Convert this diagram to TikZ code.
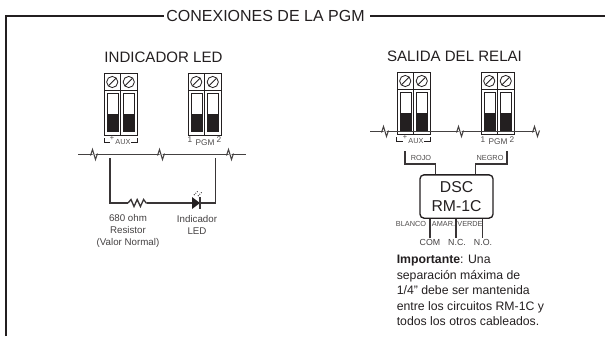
\documentclass[tikz,border=0pt]{standalone}
\usepackage{fontspec}
\setmainfont{Liberation Sans}
\definecolor{ink}{HTML}{231F20}
\tikzset{
  x=0.75pt,y=-0.75pt,
  frameline/.style={draw=ink,line width=1.4pt},
  wire/.style={draw=ink!85,line width=0.7pt},
  lead/.style={draw=ink!90,line width=1pt},
  termline/.style={draw=ink,line width=0.6pt},
  heading/.style={inner sep=0pt,text=ink,font=\fontsize{11.3}{13}\selectfont},
  title/.style={inner sep=0pt,text=ink,font=\fontsize{12}{14}\selectfont},
  small/.style={inner sep=0pt,text=ink!85,align=center,font=\fontsize{7.3}{9}\selectfont},
  tiny/.style={inner sep=0pt,text=ink!80,font=\fontsize{5.5}{6}\selectfont},
  pgmlabel/.style={inner sep=0pt,text=ink!80,font=\fontsize{6.2}{7}\selectfont},
  pics/terminal/.style={code={
    \draw[termline] (0,0) rectangle (16.5,62);
    \draw[termline] (0,16.5) -- (16.5,16.5);
    \draw[termline] (8.25,8.5) circle (5.6);
    \draw[termline] (4.6,12.2) -- (11.9,4.8);
    \draw[termline] (3,19.5) rectangle (14,57.5);
    \fill[ink] (3,40.5) rectangle (14,57.5);
  }},
  pics/wirebreak/.style={code={
    \draw[wire,line width=0.8pt] (-3.5,1) -- (-1.5,-5) -- (1.5,5) -- (3.5,-1);
  }}
}
\begin{document}
\begin{tikzpicture}
\useasboundingbox (0,0) rectangle (605,336);
% frame
\node[title,anchor=center] (maintitle) at (265.5,15.5) {CONEXIONES DE LA PGM};
\coordinate (fbl) at (6,336);
\coordinate (ftl) at (6,16);
\coordinate (ftr) at (605,16);
\coordinate (ftg1) at (163.5,16);
\coordinate (ftg2) at (370,16);
\draw[frameline] (fbl) -- (ftl) -- (ftg1);
\draw[frameline] (ftg2) -- (ftr);
% left section
\node[heading] (hleft) at (163.5,57) {INDICADOR LED};
\pic at (104,73.5) {terminal};
\pic at (120.5,73.5) {terminal};
\pic at (188,73.5) {terminal};
\pic at (204.5,73.5) {terminal};
\node[tiny] (auxl) at (123,142.5) {AUX};
\node[tiny,anchor=base] (plusl) at (112,140) {+};
\coordinate (a1) at (104,138); \coordinate (a2) at (104,142); \coordinate (a3) at (110,142);
\coordinate (a4) at (131,142); \coordinate (a5) at (137,142); \coordinate (a6) at (137,138);
\draw[termline] (a1) -- (a2) -- (a3);
\draw[termline] (a4) -- (a5) -- (a6);
\node[pgmlabel] (pgml) at (205,142.5) {PGM};
\node[pgmlabel] (p1l) at (190,140) {1};
\node[pgmlabel] (p2l) at (219,140) {2};
% bus left
\coordinate (w1) at (78,154.5); \coordinate (b1) at (94,154.5);
\coordinate (b2) at (161,154.5); \coordinate (b3) at (230,154.5); \coordinate (w2) at (246,154.5);
\draw[wire] (w1) -- (b1);
\draw[wire] (b1) -- (b2);
\draw[wire] (b2) -- (b3);
\draw[wire] (b3) -- (w2);
\fill[white] (92.5,150) rectangle (95.5,159) (159.5,150) rectangle (162.5,159) (228.5,150) rectangle (231.5,159);
\pic at (b1) {wirebreak};
\pic at (b2) {wirebreak};
\pic at (b3) {wirebreak};
% LED circuit
\coordinate (l1) at (110,158); \coordinate (l2) at (110,203); \coordinate (r1) at (128,203);
\coordinate (r2) at (147,203); \coordinate (d1) at (192,203); \coordinate (d2) at (200,203);
\coordinate (l3) at (215.5,203); \coordinate (l4) at (215.5,158);
\draw[lead] (l1) -- (l2) -- (r1);
\draw[lead] (r1) -- ++(3,-3.5) -- ++(3,7) -- ++(3.2,-7) -- ++(3.2,7) -- ++(3.2,-7) -- ++(2.6,3.5) -- (r2);
\draw[lead] (r2) -- (d1);
\fill[ink] (192,197) -- (200,203) -- (192,209) -- cycle;
\draw[lead] (200,197) -- (200,209);
\draw[lead] (d2) -- (l3) -- (l4);
\draw[ink,line width=0.6pt,densely dotted] (194,195) -- (198,191);
\draw[ink,line width=0.6pt,densely dotted] (198,196) -- (202,192);
\node[small] (rl) at (128,231) {680 ohm\\Resistor\\(Valor Normal)};
\node[small] (ll) at (197,225) {Indicador\\LED};
% right section
\node[heading] (hright) at (454.5,56) {SALIDA DEL RELAI};
\pic at (397,72.5) {terminal};
\pic at (413.5,72.5) {terminal};
\pic at (481,72.5) {terminal};
\pic at (497.5,72.5) {terminal};
\coordinate (w3) at (370,131.5); \coordinate (b4) at (385,131.5);
\coordinate (b5) at (460,131.5); \coordinate (b6) at (536,131.5); \coordinate (w4) at (539,131.5);
\draw[wire] (w3) -- (b4);
\draw[wire] (b4) -- (b5);
\draw[wire] (b5) -- (b6);
\fill[white] (383.5,127) rectangle (386.5,136) (458.5,127) rectangle (461.5,136) (534.5,127) rectangle (537.5,136);
\pic at (b4) {wirebreak};
\pic at (b5) {wirebreak};
\pic at (b6) {wirebreak};
\node[tiny] (auxr) at (416,141.5) {AUX};
\node[tiny,anchor=base] (plusr) at (405,139) {+};
\coordinate (c1) at (396,137); \coordinate (c2) at (396,141); \coordinate (c3) at (403,141);
\coordinate (c4) at (424,141); \coordinate (c5) at (430,141); \coordinate (c6) at (430,137);
\draw[termline] (c1) -- (c2) -- (c3);
\draw[termline] (c4) -- (c5) -- (c6);
\node[pgmlabel] (pgmr) at (498,142) {PGM};
\node[pgmlabel] (p1r) at (483,139.5) {1};
\node[pgmlabel] (p2r) at (512,139.5) {2};
% relay box
\node[draw=ink,line width=1pt,rounded corners=3pt,minimum width=54.75pt,minimum height=32.5pt,inner sep=0pt,align=center,text=ink,font=\fontsize{11.8}{13.75}\selectfont] (box) at (456.5,196.5) {DSC\\RM-1C};
\coordinate (rj1) at (405,151); \coordinate (rj2) at (405,164); \coordinate (rj3) at (435.5,164);
\coordinate (ng1) at (507,151); \coordinate (ng2) at (507,164); \coordinate (ng3) at (475.5,164);
\draw[lead] (rj1) -- (rj2) -- (rj3) -- (rj3 |- box.north);
\draw[lead] (ng1) -- (ng2) -- (ng3) -- (ng3 |- box.north);
\node[tiny] (rojo) at (421,158) {ROJO};
\node[tiny] (negro) at (490,158) {NEGRO};
\coordinate (o1) at (430,238); \coordinate (o2) at (456,238); \coordinate (o3) at (482.5,238);
\draw[lead] (o1 |- box.south) -- (o1);
\draw[lead] (o2 |- box.south) -- (o2);
\draw[lead] (o3 |- box.south) -- (o3);
\node[tiny] (blanco) at (411,224) {BLANCO};
\node[tiny] (amar) at (443.5,224) {AMAR.};
\node[tiny] (verde) at (470,224) {VERDE};
\node[small,font=\fontsize{6.6}{8}\selectfont] (com) at (430,242.7) {COM};
\node[small,font=\fontsize{6.6}{8}\selectfont] (nc) at (457,242.7) {N.C.};
\node[small,font=\fontsize{6.6}{8}\selectfont] (no) at (483,242.7) {N.O.};
\node[inner sep=0pt,anchor=north west,align=left,text=ink,font=\fontsize{9.2}{11.6}\selectfont] (note) at (396.5,255) {\textbf{Importante}: Una\\separación máxima de\\1/4" debe ser mantenida\\entre los circuitos RM-1C y\\todos los otros cableados.};
\end{tikzpicture}
\end{document}
